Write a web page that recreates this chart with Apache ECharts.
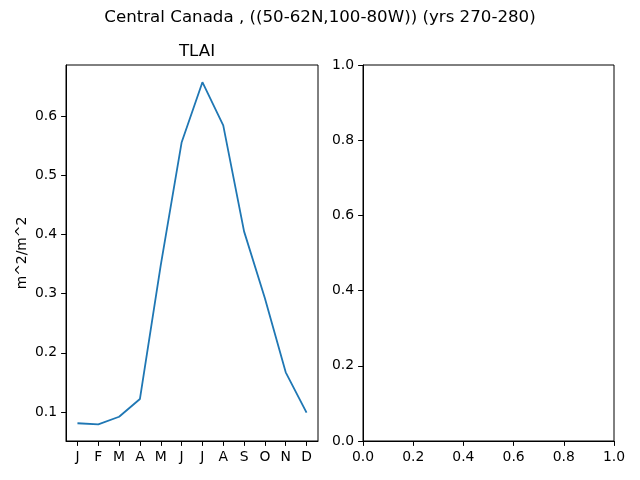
<!DOCTYPE html>
<html><head><meta charset="utf-8">
<script src="https://cdn.jsdelivr.net/npm/echarts@6/dist/echarts.min.js"></script>
<style>html,body{margin:0;padding:0;background:#fff}#c{width:640px;height:480px}</style>
</head><body><div id="c"></div>
<script>
const months = ['J','F','M','A','M','J','J','A','S','O','N','D'];
const tlai = [0.081, 0.079, 0.092, 0.122, 0.348, 0.555, 0.657, 0.584, 0.405, 0.292, 0.167, 0.099];
const leftYTicks = [0.1, 0.2, 0.3, 0.4, 0.5, 0.6];
const rightTicks = [0.0, 0.2, 0.4, 0.6, 0.8, 1.0];
const suptitle = 'Central Canada , ((50-62N,100-80W)) (yrs 270-280)';
const panelTitle = 'TLAI';
const yLabel = 'm^2/m^2';

const FONT = 'DejaVu Sans';
const axisLine = {show: true, onZero: false, lineStyle: {color: '#000', width: 1}};
const tick = {show: true, inside: false, length: 4.9, lineStyle: {color: '#000', width: 1}};
const lbl = {color: '#000', fontFamily: FONT, fontSize: 13.9};

const chart = echarts.init(document.getElementById('c'), null, {renderer: 'canvas'});
chart.setOption({
  animation: false,
  backgroundColor: '#fff',
  title: [
    {text: suptitle, left: 'center', top: 4, textStyle: {fontFamily: FONT, fontSize: 16.67, fontWeight: 'normal', color: '#000'}},
    {text: panelTitle, left: 192, textAlign: 'center', top: 38, textStyle: {fontFamily: FONT, fontSize: 16.67, fontWeight: 'normal', color: '#000'}}
  ],
  grid: [
    {left: 66, right: 322, top: 65, bottom: 39, show: true, borderColor: '#000', borderWidth: 1, backgroundColor: 'transparent'},
    {left: 363, right: 26, top: 65, bottom: 39, show: true, borderColor: '#000', borderWidth: 1, backgroundColor: 'transparent'}
  ],
  xAxis: [
    {gridIndex: 0, type: 'value', min: -0.55, max: 11.55, axisLine, axisTick: {...tick, customValues: months.map((m,i)=>i)},
     axisLabel: {...lbl, margin: 9, customValues: months.map((m,i)=>i), formatter: v => months[Math.round(v)]},
     splitLine: {show: false}},
    {gridIndex: 1, type: 'value', min: 0, max: 1, interval: 0.2, axisLine, axisTick: tick,
     axisLabel: {...lbl, margin: 9, formatter: v => v.toFixed(1), showMinLabel: true, showMaxLabel: true},
     splitLine: {show: false}}
  ],
  yAxis: [
    {gridIndex: 0, type: 'value', min: 0.051, max: 0.686, axisLine, axisTick: {...tick, customValues: leftYTicks},
     axisLabel: {...lbl, margin: 9, customValues: leftYTicks, formatter: v => v.toFixed(1)},
     splitLine: {show: false},
     name: yLabel, nameLocation: 'middle', nameGap: 37, nameRotate: 90,
     nameTextStyle: {fontFamily: FONT, fontSize: 13.9, color: '#000'}},
    {gridIndex: 1, type: 'value', min: 0, max: 1, interval: 0.2, axisLine, axisTick: tick,
     axisLabel: {...lbl, margin: 9, formatter: v => v.toFixed(1), showMinLabel: true, showMaxLabel: true},
     splitLine: {show: false}}
  ],
  series: [
    {type: 'line', xAxisIndex: 0, yAxisIndex: 0, data: tlai.map((v,i)=>[i,v]),
     showSymbol: false, symbol: 'none', lineStyle: {color: '#1f77b4', width: 1.8}, itemStyle: {color: '#1f77b4'}}
  ]
});
</script></body></html>
